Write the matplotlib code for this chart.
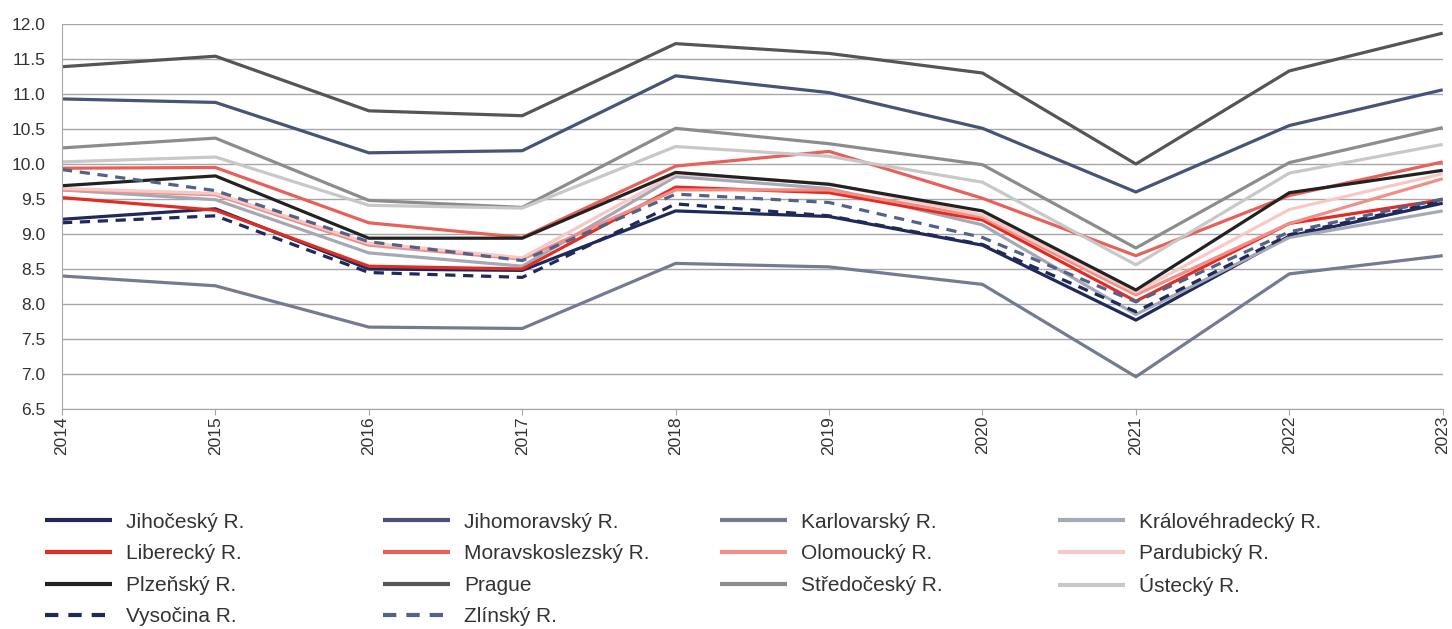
import matplotlib
matplotlib.use("Agg")
import matplotlib.pyplot as plt

plt.rcParams["font.family"] = ["Liberation Sans", "DejaVu Sans"]

years = [2014, 2015, 2016, 2017, 2018, 2019, 2020, 2021, 2022, 2023]

regions = [
    "Jihočeský R.", "Jihomoravský R.", "Karlovarský R.", "Královéhradecký R.",
    "Liberecký R.", "Moravskoslezský R.", "Olomoucký R.", "Pardubický R.",
    "Plzeňský R.", "Prague", "Středočeský R.", "Ústecký R.",
    "Vysočina R.", "Zlínský R.",
]

jihocesky = [9.21, 9.36, 8.50, 8.48, 9.33, 9.25, 8.84, 7.77, 8.97, 9.44]
jihomoravsky = [10.93, 10.88, 10.16, 10.19, 11.26, 11.02, 10.51, 9.60, 10.55, 11.06]
karlovarsky = [8.40, 8.26, 7.67, 7.65, 8.58, 8.53, 8.28, 6.96, 8.43, 8.69]
kralovehradecky = [9.63, 9.49, 8.73, 8.54, 9.82, 9.65, 9.13, 7.85, 8.95, 9.33]
liberecky = [9.52, 9.34, 8.54, 8.50, 9.67, 9.59, 9.20, 8.04, 9.15, 9.49]
moravskoslezsky = [9.94, 9.95, 9.16, 8.95, 9.97, 10.18, 9.51, 8.69, 9.55, 10.03]
olomoucky = [9.63, 9.56, 8.84, 8.64, 9.63, 9.63, 9.24, 8.13, 9.15, 9.79]
pardubicky = [9.65, 9.58, 8.87, 8.66, 9.86, 9.72, 9.27, 8.17, 9.35, 9.86]
plzensky = [9.69, 9.83, 8.94, 8.94, 9.88, 9.71, 9.33, 8.20, 9.59, 9.91]
prague = [11.39, 11.54, 10.76, 10.69, 11.72, 11.58, 11.30, 10.00, 11.33, 11.87]
stredocesky = [10.23, 10.37, 9.48, 9.38, 10.51, 10.29, 9.99, 8.80, 10.02, 10.52]
ustecky = [10.03, 10.10, 9.41, 9.37, 10.25, 10.11, 9.74, 8.56, 9.87, 10.28]
vysocina = [9.16, 9.26, 8.45, 8.38, 9.43, 9.26, 8.85, 7.89, 8.99, 9.47]
zlinsky = [9.92, 9.62, 8.89, 8.62, 9.57, 9.45, 8.95, 8.03, 9.03, 9.50]

series = [
    jihocesky, jihomoravsky, karlovarsky, kralovehradecky,
    liberecky, moravskoslezsky, olomoucky, pardubicky,
    plzensky, prague, stredocesky, ustecky,
    vysocina, zlinsky,
]

colors = [
    "#1f2a5a", "#475377", "#737b92", "#a5a9b5",
    "#e32d23", "#e8605a", "#ef8f88", "#f6c9c6",
    "#222222", "#555555", "#8c8c8c", "#c8c8c8",
    "#1f2a5a", "#53628a",
]
dashed = (0, (3.2, 2.4))
styles = ["-"] * 12 + [dashed, dashed]

fig = plt.figure(figsize=(14.52, 6.29), dpi=100)
ax = fig.add_axes([0.0427, 0.3498, 0.9509, 0.612])

lines = []
for name, vals, c, ls in zip(regions, series, colors, styles):
    ln, = ax.plot(years, vals, color=c, linestyle=ls, linewidth=2.3, label=name,
                  solid_capstyle="butt", dash_capstyle="butt")
    lines.append(ln)

ax.set_xlim(2014, 2023)
ax.set_ylim(6.5, 12.0)
ax.set_yticks([6.5 + 0.5 * i for i in range(12)])
ax.set_yticklabels([f"{6.5 + 0.5 * i:.1f}" for i in range(12)], fontsize=12.5, color="#333333")
ax.set_xticks(years)
ax.set_xticklabels([str(y) for y in years], rotation=90, fontsize=12.5, color="#333333")

ax.grid(axis="y", color="#a6a6a6", linewidth=1.0)
ax.set_axisbelow(True)
for side in ["top", "right"]:
    ax.spines[side].set_visible(False)
ax.spines["left"].set_color("#a6a6a6")
ax.spines["bottom"].set_color("#a6a6a6")
ax.tick_params(axis="y", length=0, pad=12)
ax.tick_params(axis="x", length=4, color="#a6a6a6", pad=1)

# legend: one box per entry on a fixed 4-column grid
col_x = [45, 383, 720, 1058]
row_y = [522, 553.7, 585.3, 617]
for i, ln in enumerate(lines):
    leg = fig.legend(handles=[ln], labels=[ln.get_label()], loc="center left",
                     bbox_to_anchor=(col_x[i % 4] / 1452, 1 - row_y[i // 4] / 629),
                     frameon=False, fontsize=15, handlelength=3.2, handletextpad=0.7,
                     borderpad=0, borderaxespad=0)
    leg.get_texts()[0].set_color("#333333")
    leg.legend_handles[0].set_linewidth(3.0)

fig.savefig("out.png", dpi=100)
